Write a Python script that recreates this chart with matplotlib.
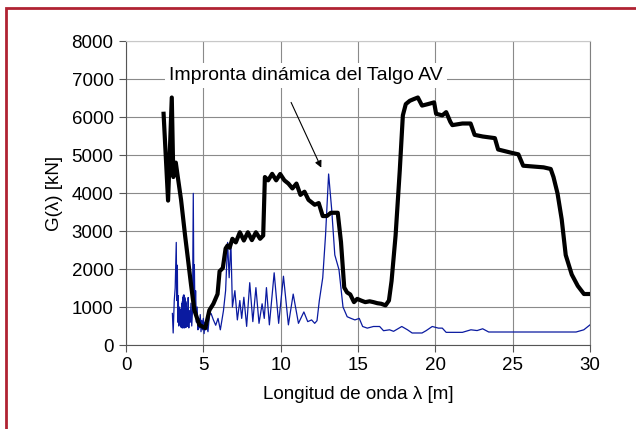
import matplotlib
matplotlib.use("Agg")
import matplotlib.pyplot as plt
from matplotlib.patches import Rectangle

plt.rcParams['font.family'] = ['Liberation Sans', 'DejaVu Sans']

# Black curve: Talgo AV dynamic signature
talgo_x = [2.43, 2.72, 2.96, 3.06, 3.22, 3.35, 3.56, 3.82, 4.0, 4.2, 4.42, 4.74, 5.13, 5.39,
           5.65, 5.92, 6.05, 6.26, 6.44, 6.57, 6.7, 6.88, 7.1, 7.36, 7.62, 7.88, 8.14, 8.4,
           8.67, 8.87, 8.98, 9.19, 9.45, 9.71, 9.97, 10.24, 10.5, 10.76, 11.02, 11.28, 11.54,
           11.8, 12.2, 12.46, 12.72, 12.98, 13.25, 13.69, 13.9, 14.11, 14.29, 14.5, 14.74,
           14.95, 15.2, 15.47, 15.75, 16.0, 16.25, 16.5, 16.78, 17.0, 17.17, 17.43, 17.7,
           17.9, 18.09, 18.35, 18.6, 18.87, 19.14, 19.53, 19.92, 20.05, 20.45, 20.7, 20.97,
           21.1, 21.75, 22.28, 22.54, 23.06, 23.85, 24.06, 24.9, 25.37, 25.68, 27.0, 27.46,
           27.64, 27.9, 28.17, 28.43, 28.82, 29.21, 29.61, 30.0]
talgo_g = [6085, 3800, 6513, 4420, 4800, 4420, 3820, 2880, 2280, 1600, 915, 530, 444, 915,
           1085, 1340, 1940, 2025, 2540, 2620, 2560, 2795, 2700, 2966, 2750, 2966, 2760, 2966,
           2795, 2880, 4420, 4333, 4504, 4333, 4500, 4333, 4248, 4120, 4248, 3950, 4034,
           3820, 3690, 3735, 3393, 3393, 3480, 3480, 2710, 1513, 1385, 1330, 1128,
           1214, 1170, 1128, 1150, 1128, 1100, 1085, 1043, 1170, 1684, 2880, 4590,
           6043, 6340, 6427, 6470, 6513, 6300, 6340, 6385, 6085, 6043, 6128, 5872,
           5786, 5829, 5829, 5530, 5487, 5444, 5145, 5060, 5017, 4718, 4675, 4632,
           4419, 3990, 3307, 2367, 1855, 1555, 1342, 1342]

# Blue curve: comparison signature
blue_x = [3.0, 3.05, 3.12, 3.18, 3.25, 3.28, 3.32, 3.35, 3.38, 3.41, 3.44, 3.47, 3.5, 3.53,
          3.56, 3.575, 3.59, 3.605, 3.62, 3.635, 3.65, 3.665, 3.68, 3.695, 3.71, 3.725,
          3.74, 3.755, 3.77, 3.785, 3.8, 3.815, 3.83, 3.845, 3.86, 3.875, 3.89, 3.905,
          3.92, 3.935, 3.95, 3.965, 3.98, 4.0, 4.02, 4.06, 4.1, 4.15, 4.2, 4.25, 4.3,
          4.35, 4.39, 4.42, 4.46, 4.5, 4.55, 4.6, 4.65, 4.7, 4.75, 4.8, 4.85, 4.9, 4.95,
          5.0, 5.05, 5.1, 5.15, 5.2, 5.3, 5.4, 5.5, 5.65, 5.8, 5.95, 6.1, 6.3, 6.44, 6.57,
          6.67, 6.78, 6.88, 7.04, 7.2, 7.36, 7.48, 7.62, 7.8, 8.0, 8.2, 8.4, 8.6, 8.8, 8.94,
          9.08, 9.27, 9.58, 9.87, 10.18, 10.5, 10.81, 11.15, 11.5, 11.75, 12.0, 12.2, 12.35,
          12.5, 12.72, 12.9, 13.1, 13.3, 13.5, 13.77, 14.03, 14.3, 14.55, 14.8, 15.08, 15.3,
          15.6, 16.0, 16.4, 16.65, 17.04, 17.3, 17.83, 18.2, 18.5, 19.14, 19.4, 19.8, 20.2,
          20.45, 20.7, 21.75, 22.3, 22.7, 23.06, 23.45, 24.9, 29.1, 29.6, 30.0]
blue_g = [830, 316, 1170, 1500, 2700, 1170, 2100, 600, 1300, 500, 1000, 550, 900, 480,
          950, 470, 1000, 460, 1100, 450, 1150, 460, 1250, 450, 1300, 470, 1320, 460,
          1300, 450, 1250, 470, 1200, 460, 1150, 470, 1100, 480, 1000, 490, 950, 500,
          850, 520, 1250, 450, 900, 600, 1100, 500, 900, 3990, 1200, 2110, 800, 1430,
          600, 1000, 400, 700, 450, 800, 350, 650, 400, 700, 300, 600, 400, 550, 350,
          800, 830, 660, 520, 700, 400, 900, 1430, 2700, 1770, 2700, 1000, 1430, 660,
          1170, 700, 1256, 490, 1640, 615, 1510, 570, 1085, 700, 1510, 530, 1900, 570,
          1810, 530, 1340, 570, 870, 615, 660, 570, 640, 1170, 1770, 2880, 4500, 3560,
          2370, 1983, 1000, 744, 700, 660, 700, 487, 444, 487, 487, 376, 400, 360, 487,
          400, 316, 316, 376, 487, 444, 444, 333, 333, 400, 380, 427, 342, 342, 342, 400,
          530]

xticks = [0, 5, 10, 15, 20, 25, 30]
yticks = [0, 1000, 2000, 3000, 4000, 5000, 6000, 7000, 8000]

fig = plt.figure(figsize=(6.36, 4.29), dpi=100)
ax = fig.add_axes([126/636, 84/429, 464/636, 304/429])

ax.plot(blue_x, blue_g, color='#0a1aa0', lw=0.9, zorder=3)
ax.plot(talgo_x, talgo_g, color='black', lw=3.0, zorder=4, solid_joinstyle='round')

ax.set_xlim(0, 30)
ax.set_ylim(0, 8000)
ax.set_xticks(xticks)
ax.set_yticks(yticks)
ax.grid(True, color='#8a8a8a', lw=0.8)
ax.set_axisbelow(True)
ax.spines['top'].set_color('#c8c8c8')
ax.spines['right'].set_color('#808080')
ax.spines['left'].set_color('#555555')
ax.spines['bottom'].set_color('#555555')
ax.tick_params(axis='both', labelsize=13.5, color='#555555', length=5, direction='out', pad=4)

ax.set_xlabel('Longitud de onda λ [m]', fontsize=13.5, labelpad=8)
ax.set_ylabel('G(λ) [kN]', fontsize=13.5, labelpad=6)

ax.text(2.8, 7100, 'Impronta dinámica del Talgo AV', fontsize=14, va='center', ha='left',
        bbox=dict(facecolor='white', edgecolor='none', pad=3), zorder=5)
ax.annotate('', xy=(12.7, 4600), xytext=(10.6, 6450),
            arrowprops=dict(arrowstyle='-|>', color='black', lw=0.8, mutation_scale=10), zorder=5)

fig.patches.append(Rectangle((6/636, -0.1), 2, (429-8)/429 + 0.1, transform=fig.transFigure,
                             fill=False, edgecolor='#b02232', lw=2))

fig.savefig('out.png', dpi=100)
